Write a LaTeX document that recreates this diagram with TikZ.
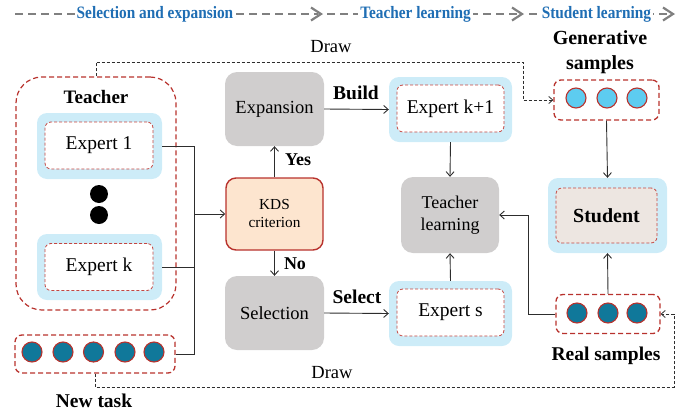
\documentclass[tikz,border=0pt]{standalone}
\usepackage{fontspec}
\setmainfont{Liberation Serif}
\newfontfamily\headfont[FakeStretch=0.88]{Liberation Serif}
\usetikzlibrary{arrows.meta}

\definecolor{redc}{RGB}{184,50,45}
\definecolor{redl}{RGB}{196,70,65}
\definecolor{skyfill}{RGB}{205,236,248}
\definecolor{grayc}{RGB}{208,206,206}
\definecolor{peach}{RGB}{253,229,207}
\definecolor{beige}{RGB}{237,230,225}
\definecolor{teal}{RGB}{16,120,154}
\definecolor{lightb}{RGB}{93,204,240}
\definecolor{headblue}{RGB}{31,110,180}
\definecolor{headgray}{RGB}{128,128,128}
\definecolor{linec}{RGB}{45,45,45}

\tikzset{
  bluebox/.style={fill=skyfill, rounded corners=10pt, minimum width=125pt, minimum height=66pt, inner sep=0pt},
  innerbox/.style={draw=redl, densely dashed, line width=0.8pt, fill=white, rounded corners=6pt,
    minimum width=108pt, minimum height=47pt, inner sep=0pt, font=\fontsize{19.5}{22}\selectfont},
  graybox/.style={fill=grayc, rounded corners=12pt, minimum width=99pt, minimum height=74pt,
    inner sep=0pt, align=center, font=\fontsize{18.5}{22}\selectfont},
  samplebox/.style={draw=redc, dash pattern=on 5pt off 3pt, line width=1.3pt, rounded corners=7pt, inner sep=0pt},
  smp/.style={circle, draw=redc, line width=1.1pt, minimum size=20pt, inner sep=0pt},
  conn/.style={draw=linec, line width=0.9pt},
  arr/.style={conn, -{Straight Barb[length=4.5pt,width=8pt]}},
  drawline/.style={draw=linec, line width=0.8pt, dash pattern=on 3pt off 2pt},
  lbl/.style={font=\bfseries\fontsize{19.5}{22}\selectfont},
  hdash/.style={draw=headgray, line width=2.6pt, dash pattern=on 8pt off 5pt},
  htip/.style={draw=headgray, line width=2.2pt, line join=miter},
  htext/.style={fill=white, inner sep=2pt, text=headblue, font=\headfont\bfseries\fontsize{17.4}{20}\selectfont}
}

\begin{document}
\begin{tikzpicture}[x=1pt,y=-1pt]
\useasboundingbox (0,0) rectangle (697,413);

% ---------- header: phases ----------
\coordinate (hs) at (15,14);
\coordinate (t1) at (321,14);
\coordinate (s2) at (327,14);
\coordinate (t2) at (522,14);
\coordinate (s3) at (529,14);
\coordinate (t3) at (673,14);
\draw[hdash] (hs) -- ([xshift=-3pt]t1);
\draw[hdash] (s2) -- ([xshift=-3pt]t2);
\draw[hdash] (s3) -- ([xshift=-3pt]t3);
\node[htext] (h1) at (155,14) {Selection and expansion};
\node[htext] (h2) at (415.5,14) {Teacher learning};
\node[htext] (h3) at (596.5,14) {Student learning};
\foreach \t in {t1,t2,t3}
  \draw[htip] ([shift={(-10,-6.5)}]\t) -- (\t) -- ([shift={(-10,6.5)}]\t);

% ---------- teacher with its experts ----------
\node[draw=redc, dash pattern=on 5pt off 3pt, line width=1.2pt, rounded corners=26pt,
      minimum width=160pt, minimum height=233pt, inner sep=0pt] (teacher) at (96,193.5) {};
\node[font=\bfseries\fontsize{19}{22}\selectfont] (tlabel) at (96,97) {Teacher};

\node[bluebox] (e1) at (99.5,146) {};
\node[innerbox] (e1i) at (99,145.5) {Expert 1};
\node[circle, fill=black, minimum size=18pt, inner sep=0pt] (d1) at (99,194) {};
\node[circle, fill=black, minimum size=18pt, inner sep=0pt] (d2) at (99,215) {};
\node[bluebox] (ek) at (99.5,267) {};
\node[innerbox] (eki) at (99,267) {Expert k};

% ---------- new task ----------
\node[samplebox, minimum width=160pt, minimum height=38pt] (newtask) at (95,354) {};
\foreach \x [count=\i] in {32,63,93.5,125,154}
  \node[smp, fill=teal] (n\i) at (\x,352) {};
\node[lbl] (ntlabel) at (94,401) {New task};

% ---------- decision ----------
\node[fill=peach, draw=redc, line width=1.4pt, rounded corners=10pt, minimum width=97pt,
      minimum height=72pt, inner sep=0pt, align=center,
      font=\fontsize{15.3}{18}\selectfont] (kds) at (274.5,214) {KDS\\criterion};
\node[graybox] (exp) at (274.5,109) {Expansion};
\node[graybox] (sel) at (274.5,313) {Selection};

\coordinate (j) at (194,214);
\draw[conn] (e1.east) -| (194,354) -- (newtask.east);
\draw[conn] (ek.east) -- (194,267);
\draw[arr] (j) -- (kds.west);
\draw[arr] (kds.north) -- (exp.south);
\draw[arr] (kds.south) -- (sel.north);
\node[lbl, font=\bfseries\fontsize{18}{20}\selectfont] (yes) at (298,160) {Yes};
\node[lbl, font=\bfseries\fontsize{18}{20}\selectfont] (no) at (295,264) {No};

% ---------- teacher learning ----------
\node[bluebox, minimum width=123pt, minimum height=65pt] (ek1) at (450.5,109.5) {};
\node[innerbox, minimum width=107pt] (ek1i) at (450.5,108.5) {Expert k+1};
\node[bluebox, minimum width=123pt, minimum height=65pt] (es) at (450.5,313.5) {};
\node[innerbox, minimum width=107pt] (esi) at (450.5,312.5) {Expert s};
\node[graybox, minimum width=98pt, minimum height=76pt,
      font=\fontsize{18}{22}\selectfont] (tl) at (450,215) {Teacher\\learning};

\draw[arr] (exp.east) -- (ek1.west);
\draw[arr] (sel.east) -- (es.west);
\node[lbl] (build) at (356,93) {Build};
\node[lbl] (select) at (357,297) {Select};
\draw[arr] (ek1.south) -- (tl.north);
\draw[arr] (es.north) -- (tl.south);

% ---------- student learning ----------
\node[samplebox, minimum width=105pt, minimum height=40pt] (gen) at (606.5,100) {};
\foreach \x [count=\i] in {576,607,637}
  \node[smp, fill=lightb] (g\i) at (\x,98) {};
\node[lbl, align=center, font=\bfseries\fontsize{20}{25}\selectfont] (genlabel) at (600,52) {Generative\\samples};

\node[bluebox, minimum width=119pt, minimum height=75pt] (stu) at (607.5,215.5) {};
\node[innerbox, fill=beige, minimum width=101pt, minimum height=55pt,
      font=\bfseries\fontsize{20}{22}\selectfont] (stui) at (606.5,215.5) {Student};

\node[samplebox, minimum width=104pt, minimum height=39pt] (real) at (608,314) {};
\foreach \x [count=\i] in {577,608,637}
  \node[smp, fill=teal] (r\i) at (\x,313) {};
\node[lbl] (reallabel) at (606,356) {Real samples};

\draw[arr] (gen.south) -- (stu.north);
\draw[arr] (real.north) -- (stu.south);
\draw[arr] (real.west) -- (528,314) |- (tl.east);

% ---------- sampling paths ----------
\draw[drawline, -{Straight Barb[length=4pt,width=7pt]}] (teacher.north) |- (523,62) |- (gen.west);
\node[font=\fontsize{18.5}{20}\selectfont] (draw1) at (331,47) {Draw};
\draw[drawline, -{Straight Barb[length=4pt,width=7pt]}] (newtask.south) |- (674,387) |- (real.east);
\node[font=\fontsize{18.5}{20}\selectfont] (draw2) at (332,373) {Draw};
\end{tikzpicture}
\end{document}
